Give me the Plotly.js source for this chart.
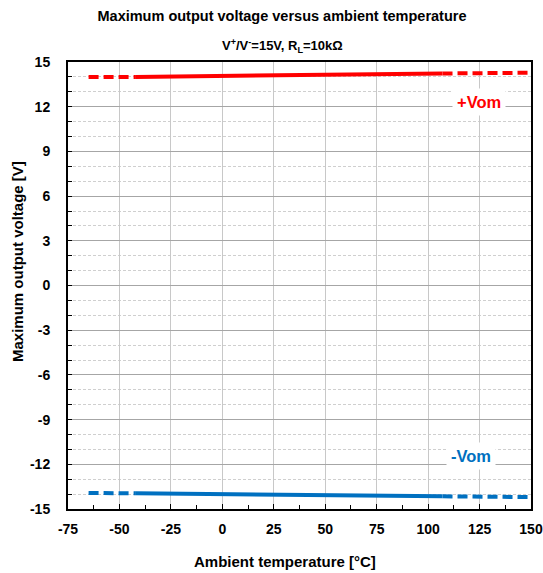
<!DOCTYPE html>
<html><head><meta charset="utf-8">
<script src="https://cdn.plot.ly/plotly-3.0.1.min.js"></script>
<style>html,body{margin:0;padding:0;background:#fff}#chart{width:543px;height:573px}
#chart .xtick text, #chart .ytick text{font-weight:bold !important}</style>
</head><body><div id="chart"></div>
<script>
// Temperatures (°C)
const tempDashLow = [-65, -42];
const tempSolid = [-42, -25, 0, 25, 50, 75, 100, 107];
const tempDashHigh = [107, 125, 150];
// +Vom (V)
const plusDashLow = [14.0, 14.0];
const plusSolid = [14.0, 14.02, 14.05, 14.1, 14.15, 14.18, 14.22, 14.23];
const plusDashHigh = [14.23, 14.25, 14.28];
// -Vom (V)
const minusDashLow = [-13.92, -13.95];
const minusSolid = [-13.95, -13.97, -14.05, -14.08, -14.12, -14.13, -14.14, -14.15];
const minusDashHigh = [-14.15, -14.17, -14.2];
// Tick labels
const xTickVals = [-75, -50, -25, 0, 25, 50, 75, 100, 125, 150];
const xTickText = ['-75', '-50', '-25', '0', '25', '50', '75', '100', '125', '150'];
const yTickVals = [-15, -12, -9, -6, -3, 0, 3, 6, 9, 12, 15];
const yTickText = ['-15', '-12', '-9', '-6', '-3', '0', '3', '6', '9', '12', '15'];

const red = '#ff0000', blue = '#0070c0';
const F = 'Liberation Sans, Arial, sans-serif';
const bold = s => '<b>' + s + '</b>';
function tr(x, y, c, dash) {
  return {x: x, y: y, type: 'scatter', mode: 'lines', showlegend: false,
    line: {color: c, width: 4, dash: dash ? '10px,5px' : 'solid'}, hoverinfo: 'skip'};
}
const data = [
  tr(tempDashLow, plusDashLow, red, true), tr(tempSolid, plusSolid, red, false), tr(tempDashHigh, plusDashHigh, red, true),
  tr(tempDashLow, minusDashLow, blue, true), tr(tempSolid, minusSolid, blue, false), tr(tempDashHigh, minusDashHigh, blue, true)
];
const layout = {
  width: 543, height: 573,
  margin: {l: 68, r: 12, t: 62, b: 64},
  paper_bgcolor: '#fff', plot_bgcolor: '#fff',
  font: {family: F, color: '#000'},
  title: {text: 'Maximum output voltage versus ambient temperature', font: {size: 14.5, family: F, weight: 'bold'},
    xref: 'container', x: 282 / 543, xanchor: 'center', yref: 'container', y: 1 - 16 / 573, yanchor: 'middle'},
  xaxis: {range: [-75, 150], tickmode: 'array', tickvals: xTickVals, ticktext: xTickText.map(bold),
    showgrid: true, gridcolor: '#c8c8c8', gridwidth: 1,
    showline: true, linecolor: '#000', linewidth: 2, mirror: true, zeroline: false,
    ticks: 'inside', ticklen: 5, tickcolor: '#000', ticklabelstandoff: 6,
    minor: {dtick: 12.5, tick0: -75, ticks: 'inside', ticklen: 4, tickcolor: '#000', showgrid: false},
    tickfont: {size: 14, family: F, weight: 700}},
  yaxis: {range: [-15, 15], tickmode: 'array', tickvals: yTickVals, ticktext: yTickText.map(bold),
    showgrid: true, gridcolor: '#a6a6a6', gridwidth: 1,
    showline: true, linecolor: '#000', linewidth: 2, mirror: true, zeroline: false,
    ticks: 'inside', ticklen: 4, tickcolor: '#000', ticklabelstandoff: 13,
    minor: {dtick: 1, tick0: -15, ticks: 'inside', ticklen: 4, tickcolor: '#000', showgrid: true, gridcolor: '#cfcfcf', griddash: '3px,2px', gridwidth: 1},
    tickfont: {size: 14, family: F, weight: 700}},
  annotations: [
    {text: '<b>V<sup>+</sup>/V<sup>-</sup>=15V, R<sub>L</sub>=10kΩ</b>', xref: 'paper', yref: 'paper', x: (282 - 68) / 463, y: 1, yanchor: 'middle', yshift: 16, showarrow: false, font: {size: 13, family: F}},
    {text: '<b>Ambient temperature [°C]</b>', xref: 'paper', yref: 'paper', x: (285 - 68) / 463, y: 0, yanchor: 'middle', yshift: -52, showarrow: false, font: {size: 15, family: F}},
    {text: '<b>Maximum output voltage [V]</b>', xref: 'paper', yref: 'paper', x: 0, xanchor: 'center', xshift: -51, y: (509 - 262) / 447, yanchor: 'middle', textangle: -90, showarrow: false, font: {size: 15, family: F}},
    {text: '<b>+Vom</b>', x: 124.5, y: 12.3, showarrow: false, font: {size: 16.5, color: red, family: F}, bgcolor: '#fff', borderpad: 4},
    {text: '<b>-Vom</b>', x: 121, y: -11.45, showarrow: false, font: {size: 16.5, color: blue, family: F}, bgcolor: '#fff', borderpad: 4}
  ]
};
Plotly.newPlot('chart', data, layout, {displayModeBar: false, staticPlot: true});
</script></body></html>
